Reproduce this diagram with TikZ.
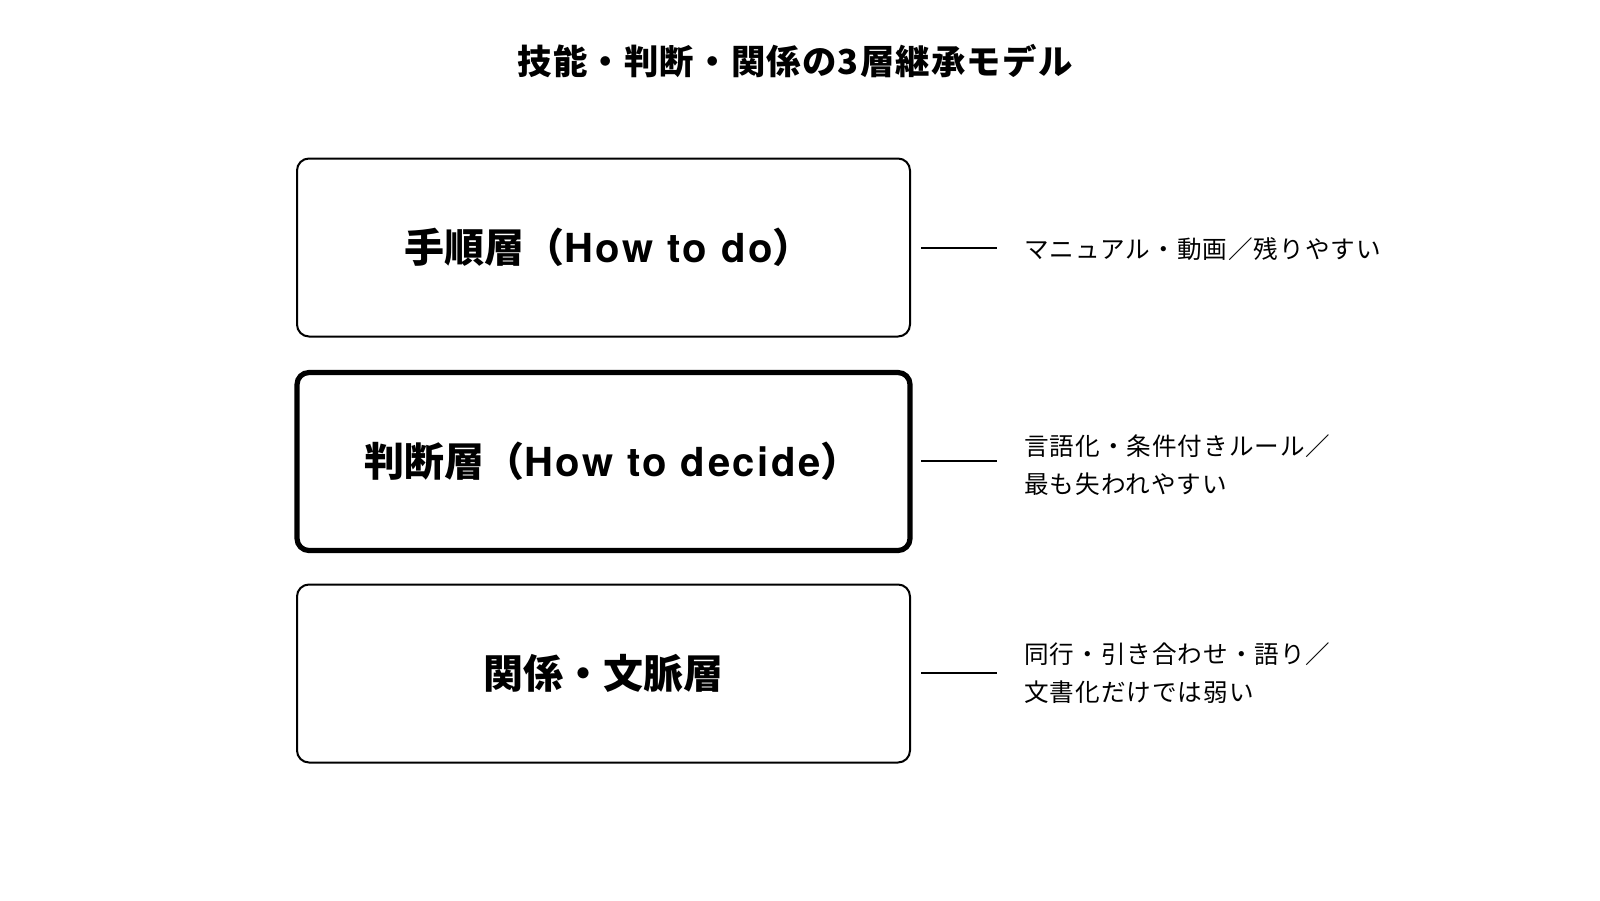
\documentclass[tikz,border=0pt]{standalone}
\usepackage{fontspec}
\newfontfamily\jp{Noto Sans CJK JP}
\newfontfamily\jpt[LetterSpace=3.5]{Noto Sans CJK JP}
\newfontfamily\jpn[LetterSpace=4]{Noto Sans CJK JP}
\newfontfamily\lat[LetterSpace=6.5]{TeX Gyre Heros}
\begin{document}
\begin{tikzpicture}[x=0.5pt,y=-0.5pt,
  layerbox/.style={draw=black,line width=1pt,rounded corners=6pt,minimum width=306.5pt,minimum height=89pt,fill=white,inner sep=0pt},
  keybox/.style={layerbox,line width=2.6pt},
  layerlabel/.style={font=\jp\bfseries\fontsize{20}{24}\selectfont,inner sep=0pt},
  conn/.style={draw=black,line width=0.8pt},
  note/.style={anchor=west,align=left,font=\jpn\fontsize{12.3}{19}\selectfont,inner sep=0pt}]
\useasboundingbox (0,0) rectangle (1600,900);
\node[font=\jpt\bfseries\fontsize{17.2}{20}\selectfont] (title) at (795,61) {技能・判断・関係の3層継承モデル};
\node[layerbox] (b1) at (603.5,247.5) {};
\node[keybox] (b2) at (603.5,461.5) {};
\node[layerbox] (b3) at (603.5,673.5) {};
\node[layerlabel] (t1) at ([xshift=2.5pt]b1.center) {手順層（{\lat How to do}）};
\node[layerlabel] (t2) at ([xshift=4.5pt]b2.center) {判断層（{\lat How to decide}）};
\node[layerlabel] (t3) at (b3.center) {関係・文脈層};
\coordinate (c1a) at (921,248); \coordinate (c1b) at (997,248);
\coordinate (c2a) at (921,461); \coordinate (c2b) at (997,461);
\coordinate (c3a) at (921,673); \coordinate (c3b) at (997,673);
\draw[conn] (c1a) -- (c1b);
\draw[conn] (c2a) -- (c2b);
\draw[conn] (c3a) -- (c3b);
\node[note] (n1) at (1024,249) {マニュアル・動画／残りやすい};
\node[note] (n2) at (1024,465) {言語化・条件付きルール／\\最も失われやすい};
\node[note] (n3) at (1024,673) {同行・引き合わせ・語り／\\文書化だけでは弱い};
\end{tikzpicture}
\end{document}
